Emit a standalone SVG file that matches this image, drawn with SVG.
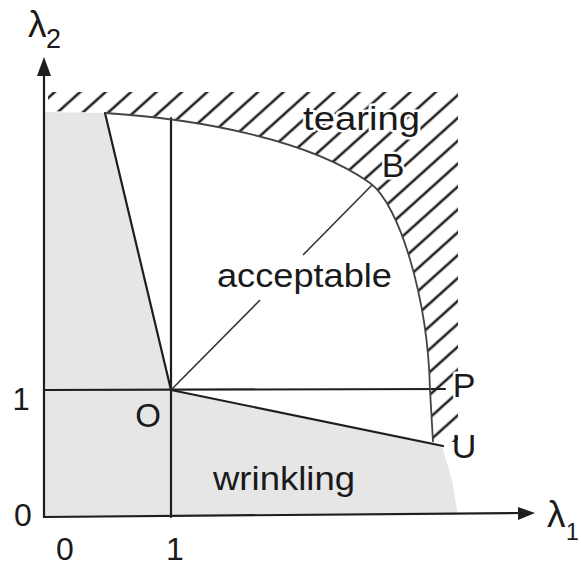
<svg xmlns="http://www.w3.org/2000/svg" width="581" height="567" viewBox="0 0 581 567">
  <style>
    .ln { stroke: #1e1e1e; stroke-width: 2.2; fill: none; stroke-linecap: round; }
    .thin { stroke: #333; stroke-width: 1.6; fill: none; }
    .crv { stroke: #444; stroke-width: 1.8; fill: none; }
    .t { font-family: "Liberation Sans", Arial, sans-serif; fill: #1a1a1a; }
    .halo { stroke: #fff; stroke-width: 5; paint-order: stroke; stroke-linejoin: round; }
  </style>
  <defs>
    <pattern id="hatch" patternUnits="userSpaceOnUse" width="17" height="17" patternTransform="rotate(48)">
      <line x1="3" y1="0" x2="3" y2="17" stroke="#222" stroke-width="2.6"/>
    </pattern>
    <clipPath id="hclip">
      <path d="M48,92 L458,92 L458,442 L433,442 L430,390 C428,300 400,205 370,183 C310,140 200,119 105,113 L48,111 Z"/>
    </clipPath>
  </defs>

  <!-- wrinkling (shaded) region -->
  <path id="wrinkle-region" d="M44,112 L105,113 L171,390 L433,442 L442,446 L452,480 L458,515 L44,517 Z" fill="#e6e6e6"/>

  <!-- tearing (hatched) region -->
  <rect id="tear-region" x="40" y="88" width="425" height="360" fill="url(#hatch)" clip-path="url(#hclip)"/>

  <g id="connectors">
    <!-- axes -->
    <line class="ln" x1="44" y1="517" x2="44" y2="74"/>
    <polygon points="37,76 51,76 44,57" fill="#1e1e1e"/>
    <line class="ln" x1="44" y1="517" x2="519" y2="513"/>
    <polygon points="518,507 518,520 535,513" fill="#1e1e1e"/>
    <!-- lambda1 = 1 and lambda2 = 1 lines -->
    <line class="ln" x1="171" y1="118" x2="171" y2="517"/>
    <line class="ln" x1="44" y1="390" x2="445" y2="389"/>
    <!-- wedge lines -->
    <line class="ln" x1="105" y1="113" x2="171" y2="390"/>
    <line class="ln" x1="171" y1="390" x2="443" y2="446"/>
    <!-- O-B diagonal -->
    <line class="thin" x1="171" y1="390" x2="260" y2="300"/>
    <line class="thin" x1="303" y1="255" x2="372" y2="185"/>
    <!-- tearing boundary curve -->
    <path class="crv" d="M105,113 C200,119 310,140 370,183 C400,205 428,300 430,390 L433,442"/>
  </g>

  <g id="labels">
    <g id="lambda2"><text class="t" x="28" y="37" font-size="37">λ</text><text class="t" x="46" y="48" font-size="27">2</text></g>
    <g id="lambda1"><text class="t" x="547" y="527" font-size="37">λ</text><text class="t" x="566" y="540" font-size="23">1</text></g>
    <text class="t" x="21" y="410" font-size="31" text-anchor="middle">1</text>
    <text class="t" x="23" y="526" font-size="32" text-anchor="middle">0</text>
    <text class="t" x="65" y="560" font-size="32" text-anchor="middle">0</text>
    <text class="t" x="175" y="560" font-size="32" text-anchor="middle">1</text>
    <g id="O"><text class="t" x="148" y="427" font-size="33" text-anchor="middle">O</text></g>
    <g id="B"><text class="t halo" x="393" y="177" font-size="34" text-anchor="middle">B</text></g>
    <g id="P"><text class="t halo" x="464" y="397" font-size="34" text-anchor="middle">P</text></g>
    <g id="U"><text class="t" x="464" y="458" font-size="34" text-anchor="middle">U</text></g>
    <g id="tearing"><text class="t halo" x="303" y="130" font-size="33" textLength="117" lengthAdjust="spacingAndGlyphs">tearing</text></g>
    <g id="acceptable"><text class="t" x="217" y="287" font-size="33" textLength="175" lengthAdjust="spacingAndGlyphs">acceptable</text></g>
    <g id="wrinkling"><text class="t" x="213" y="490" font-size="33" textLength="142" lengthAdjust="spacingAndGlyphs">wrinkling</text></g>
  </g>
</svg>
